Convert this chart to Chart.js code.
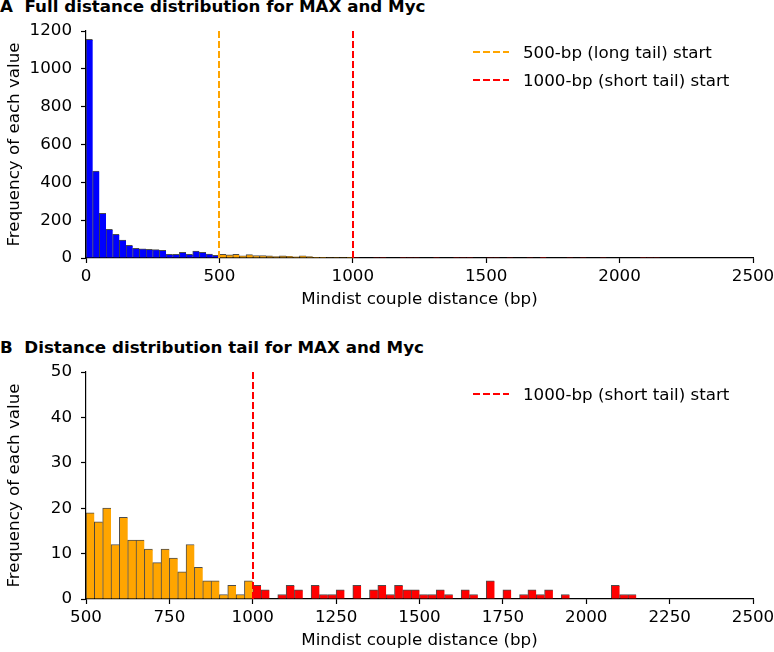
<!DOCTYPE html>
<html>
<head>
<meta charset="utf-8">
<script src="https://cdn.jsdelivr.net/npm/chart.js@4.4.1/dist/chart.umd.min.js"></script>
<style>
  body { margin: 0; background: #fff; font-family: "DejaVu Sans", sans-serif; color: #000; }
  #page { position: relative; width: 774px; height: 652px; overflow: hidden; }
  .panel-title { position: absolute; left: 0; font-weight: bold; font-size: 16.7px; line-height: 17px; white-space: pre; }
  .legend { position: absolute; left: 470px; font-size: 16.7px; }
  .legend .row { height: 28px; display: flex; align-items: center; white-space: nowrap; }
  .legend svg { margin-right: 13px; }
  canvas { position: absolute; left: 0; }
</style>
</head>
<body>
<div id="page">
  <div class="panel-title" style="top:-2px">A  Full distance distribution for MAX and Myc</div>
  <canvas id="chartA" width="774" height="320" style="top:0px"></canvas>
  <div class="legend" id="legendA" style="top:38px"></div>

  <div class="panel-title" style="top:339px">B  Distance distribution tail for MAX and Myc</div>
  <canvas id="chartB" width="774" height="320" style="top:341px"></canvas>
  <div class="legend" id="legendB" style="top:380px"></div>
</div>
<script>
// histogram counts, 25-bp bins
const binWidth = 25;
// 0-500 bp
const headCounts = [1156, 460, 236, 152, 125, 95, 67, 51, 48, 46, 44, 40, 19, 19, 30, 19, 37, 30, 21, 14];
// 500-1000 bp (long tail)
const longTailCounts = [19, 17, 20, 12, 18, 13, 13, 11, 8, 11, 9, 6, 12, 7, 4, 4, 1, 3, 1, 4];
// 1000-2500 bp (short tail)
const shortTailCounts = [3, 2, 0, 1, 3, 2, 0, 3, 1, 1, 2, 0, 3, 0, 2, 3, 1, 3, 2, 2,
  1, 1, 2, 1, 0, 2, 1, 0, 4, 0, 2, 0, 1, 2, 1, 2, 0, 1, 0, 0,
  0, 0, 0, 3, 1, 1, 0, 0, 0, 0, 0, 0, 0, 0, 0, 0, 0, 0, 0, 0];

const cutoffs = [500, 1000];
const cutoffLabels = ['500-bp (long tail) start', '1000-bp (short tail) start'];

const xTicksA = [0, 500, 1000, 1500, 2000, 2500];
const yTicksA = [0, 200, 400, 600, 800, 1000, 1200];
const xTicksB = [500, 750, 1000, 1250, 1500, 1750, 2000, 2250, 2500];
const yTicksB = [0, 10, 20, 30, 40, 50];

const BLUE = '#0000ff', ORANGE = '#ffa500', RED = '#ff0000';
const EDGE = 'rgba(0,0,0,0.7)';

Chart.defaults.font.family = '"DejaVu Sans", sans-serif';
Chart.defaults.font.size = 16.7;
Chart.defaults.color = '#000';

function toPoints(counts, start) {
  return counts.map((c, i) => ({ x: start + (i + 0.5) * binWidth, y: c }));
}

function barSet(counts, start, color) {
  return {
    data: toPoints(counts, start),
    backgroundColor: color,
    borderColor: EDGE,
    borderWidth: { left: 1, top: 1, right: 0, bottom: 0 },
    barPercentage: 1,
    categoryPercentage: 1,
    grouped: false
  };
}

const cutoffLines = {
  id: 'cutoffLines',
  afterDatasetsDraw(chart, args, opts) {
    const { ctx, chartArea, scales: { x } } = chart;
    ctx.save();
    ctx.lineWidth = 2;
    ctx.setLineDash([7, 3]);
    opts.lines.forEach(l => {
      const px = Math.round(x.getPixelForValue(l.value));
      ctx.strokeStyle = l.color;
      ctx.beginPath();
      ctx.moveTo(px, chartArea.top);
      ctx.lineTo(px, chartArea.bottom);
      ctx.stroke();
    });
    ctx.restore();
  }
};

function axis(ticks, min, max, extra) {
  return Object.assign({
    type: 'linear',
    min: min,
    max: max,
    offset: false,
    afterBuildTicks: s => { s.ticks = ticks.map(v => ({ value: v })); },
    grid: { display: true, drawOnChartArea: false, drawTicks: true, tickLength: 5, tickWidth: 1.2, tickColor: '#000', offset: false },
    border: { display: true, color: '#000', width: 1.2 }
  }, extra);
}

function makeChart(id, datasets, opts) {
  return new Chart(document.getElementById(id), {
    type: 'bar',
    data: { datasets: datasets },
    options: {
      responsive: false,
      animation: false,
      devicePixelRatio: 1,
      layout: { padding: { top: 31, right: 21, left: 0, bottom: 0 } },
      plugins: {
        legend: { display: false },
        tooltip: { enabled: false },
        cutoffLines: { lines: opts.lines }
      },
      scales: {
        x: axis(opts.xTicks, opts.xMin, opts.xMax, {
          ticks: { color: '#000', autoSkip: false, maxRotation: 0, padding: 4, callback: v => String(v) },
          title: { display: true, text: 'Mindist couple distance (bp)', color: '#000', padding: { top: 0, bottom: 10 } },
          // keep the plot box fixed; the layout padding leaves room for the end labels
          afterFit: s => { s.height = 62; s.paddingLeft = 0; s.paddingRight = 0; }
        }),
        y: axis(opts.yTicks, opts.yMin, opts.yMax, {
          ticks: { color: '#000', autoSkip: false, padding: 9, callback: v => String(v) },
          title: { display: true, text: 'Frequency of each value', color: '#000', padding: { top: 5, bottom: 0 } },
          afterFit: s => { s.width = 86; s.paddingTop = 0; s.paddingBottom = 0; }
        })
      }
    },
    plugins: [cutoffLines]
  });
}

makeChart('chartA', [
  barSet(headCounts, 0, BLUE),
  barSet(longTailCounts, 500, ORANGE),
  barSet(shortTailCounts, 1000, RED)
], {
  xTicks: xTicksA, xMin: 0, xMax: 2500, yTicks: yTicksA, yMin: 0, yMax: 1200,
  lines: [{ value: cutoffs[0], color: ORANGE }, { value: cutoffs[1], color: RED }]
});

makeChart('chartB', [
  barSet(longTailCounts, 500, ORANGE),
  barSet(shortTailCounts, 1000, RED)
], {
  xTicks: xTicksB, xMin: 500, xMax: 2500, yTicks: yTicksB, yMin: 0, yMax: 50,
  lines: [{ value: cutoffs[1], color: RED }]
});

function legend(id, items) {
  const el = document.getElementById(id);
  items.forEach(it => {
    const row = document.createElement('div');
    row.className = 'row';
    row.innerHTML = '<svg width="40" height="4"><line x1="3" y1="2" x2="39" y2="2" stroke="' + it.color +
      '" stroke-width="2" stroke-dasharray="7 3"/></svg>';
    const span = document.createElement('span');
    span.textContent = it.label;
    row.appendChild(span);
    el.appendChild(row);
  });
}
legend('legendA', [{ label: cutoffLabels[0], color: ORANGE }, { label: cutoffLabels[1], color: RED }]);
legend('legendB', [{ label: cutoffLabels[1], color: RED }]);
</script>
</body>
</html>
